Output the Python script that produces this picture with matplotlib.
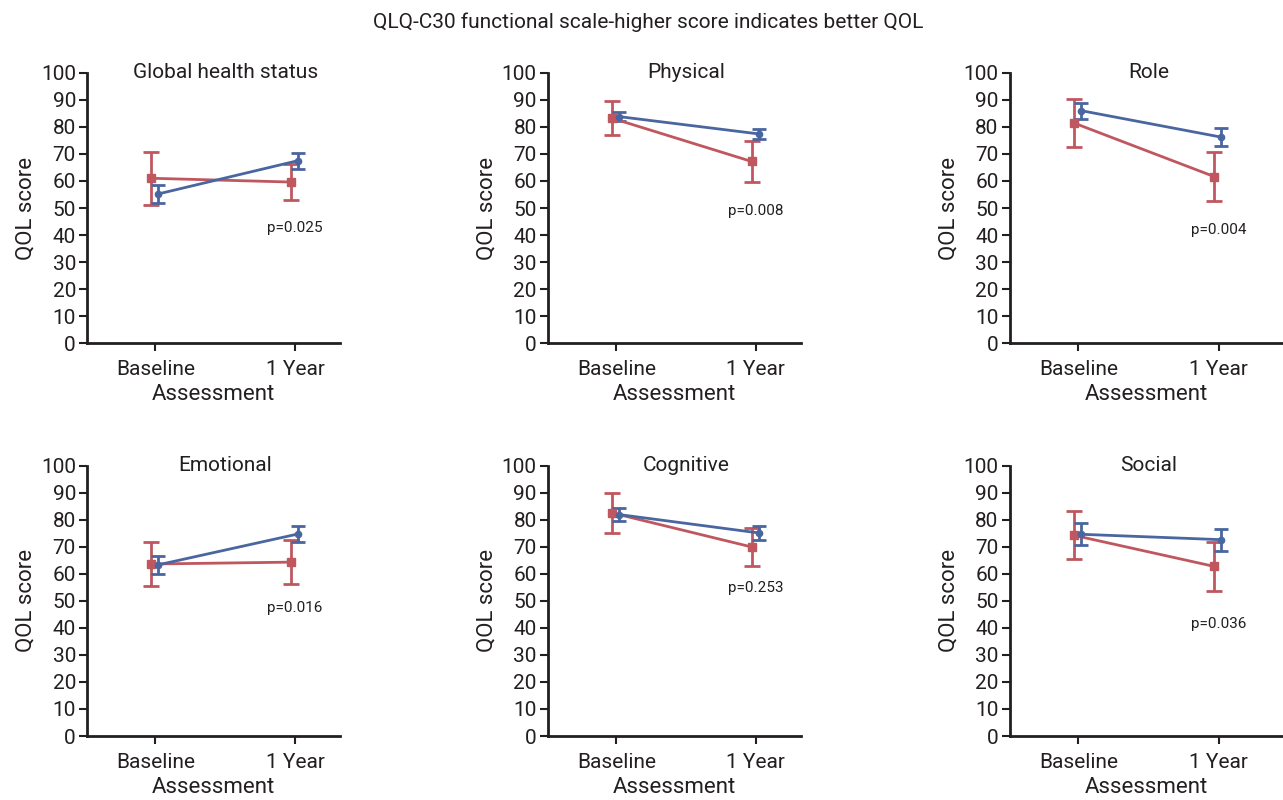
import matplotlib
matplotlib.use('Agg')
import matplotlib.pyplot as plt

plt.rcParams['font.family'] = ['Liberation Sans Narrow', 'Roboto', 'DejaVu Sans']

# data
panels = ['Global health status', 'Physical', 'Role', 'Emotional', 'Cognitive', 'Social']
timepoints = ['Baseline', '1 Year']
red_mean = [[61.0, 59.6], [83.2, 67.2], [81.4, 61.6], [63.6, 64.3], [82.5, 69.9], [74.2, 62.7]]
red_err = [[9.8, 6.6], [6.2, 7.4], [9.0, 9.0], [8.0, 8.2], [7.4, 7.2], [8.9, 9.1]]
blue_mean = [[55.2, 67.5], [83.8, 77.4], [86.0, 76.2], [63.3, 74.7], [81.9, 75.1], [74.6, 72.6]]
blue_err = [[3.4, 3.0], [1.6, 2.0], [3.0, 3.3], [3.4, 2.8], [2.5, 2.7], [4.0, 4.0]]
pvalues = ['p=0.025', 'p=0.008', 'p=0.004', 'p=0.016', 'p=0.253', 'p=0.036']
p_y = [42.6, 49.0, 42.0, 47.4, 54.8, 41.5]

red = '#C0575F'
blue = '#4A66A0'
dark = '#231F20'

fig = plt.figure(figsize=(12.83, 8), dpi=100)
fig.suptitle('QLQ-C30 functional scale-higher score indicates better QOL',
             x=0.505, y=0.985, fontsize=15, color=dark)

lefts = [0.0678, 0.427, 0.787]
widths = [0.197, 0.197, 0.213]
xright = [1.32, 1.32, 1.46]
bottoms = [0.571, 0.08]
height = 0.338

for i, name in enumerate(panels):
    r, c = divmod(i, 3)
    ax = fig.add_axes([lefts[c], bottoms[r], widths[c], height])
    xs = [0, 1]
    ax.errorbar([x - 0.03 for x in xs], red_mean[i], yerr=red_err[i], color=red,
                marker='s', markersize=6, linewidth=2, capsize=6, capthick=2, elinewidth=2)
    ax.errorbar([x + 0.02 for x in xs], blue_mean[i], yerr=blue_err[i], color=blue,
                marker='o', markersize=4.5, linewidth=2, capsize=5, capthick=2, elinewidth=2)
    ax.set_xlim(-0.49, xright[c])
    ax.set_ylim(0, 100)
    ax.set_yticks(range(0, 101, 10))
    ax.set_xticks(xs)
    ax.set_xticklabels(timepoints)
    ax.spines['top'].set_visible(False)
    ax.spines['right'].set_visible(False)
    for s in ['left', 'bottom']:
        ax.spines[s].set_linewidth(2)
        ax.spines[s].set_color(dark)
    ax.tick_params(axis='both', width=1.5, length=6, labelsize=15, colors=dark)
    ax.tick_params(axis='y', pad=2)
    ax.tick_params(axis='x', pad=6)
    ax.set_xlabel('Assessment', fontsize=16, color=dark, labelpad=4)
    ax.set_ylabel('QOL score', fontsize=16, color=dark, labelpad=3)
    ax.text(0.5, 100, name, fontsize=15, color=dark, ha='center', va='center')
    ax.text(1.0, p_y[i], pvalues[i], fontsize=11, color=dark, ha='center', va='center')

fig.savefig('out.png', dpi=100)
